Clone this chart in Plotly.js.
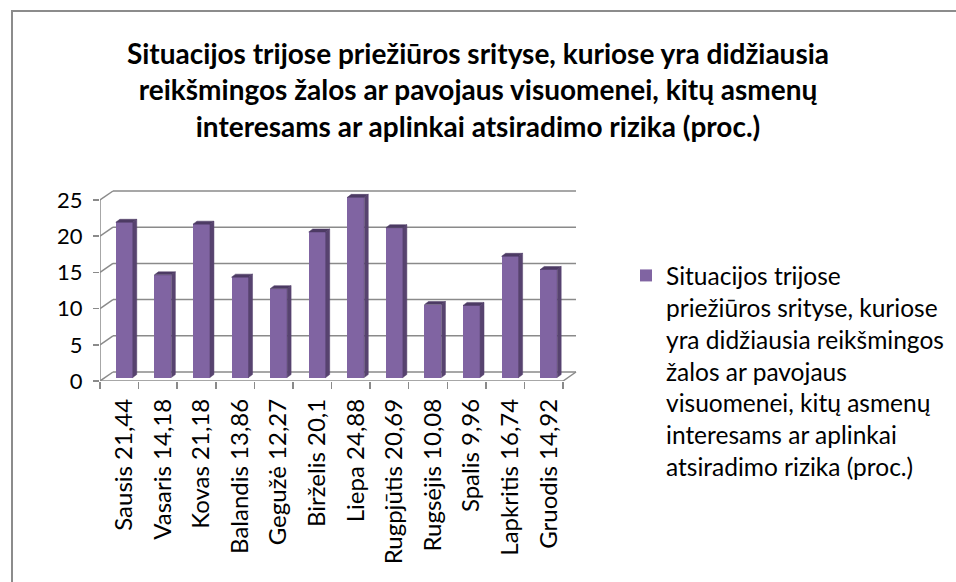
<!DOCTYPE html>
<html><head><meta charset="utf-8">
<script src="https://cdn.plot.ly/plotly-3.0.1.min.js"></script>
<style>html,body{margin:0;padding:0;background:#fff;}#chart{width:956px;height:582px;}</style>
</head><body><div id="chart"></div>
<script>
const months = ["Sausis","Vasaris","Kovas","Balandis","Gegužė","Birželis","Liepa","Rugpjūtis","Rugsėjis","Spalis","Lapkritis","Gruodis"];
const values = [21.44,14.18,21.18,13.86,12.27,20.1,24.88,20.69,10.08,9.96,16.74,14.92];
const yTicks = [0,5,10,15,20,25];
const seriesName = "Situacijos trijose<br>priežiūros srityse, kuriose<br>yra didžiausia reikšmingos<br>žalos ar pavojaus<br>visuomenei, kitų asmenų<br>interesams ar aplinkai<br>atsiradimo rizika (proc.)";
const titleText = "Situacijos trijose priežiūros srityse, kuriose yra didžiausia<br>reikšmingos žalos ar pavojaus visuomenei, kitų asmenų<br>interesams ar aplinkai atsiradimo rizika (proc.)";

const labels = months.map((m,i)=> m + " " + String(values[i]).replace('.', ','));
const idx = months.map((m,i)=>i);

// geometry (pixels)
const W=956,H=582;
const L=100, R=579, T=190, B=381;
const pxPerCat = (563-100)/months.length;
const pxPerUnit = 181/25;
const depthX = 13, depthY = 9;     // wall depth
const barShiftX = 5, barShiftY = 3.5; // bar front plane
const barDX = 4, barDY = 3;          // bar own depth
const barW = 0.44;

const frontX = [-0.5, -0.5 + (R-L)/pxPerCat];
const frontY = [0, (B-T)/pxPerUnit];
const bsx = barShiftX/pxPerCat, bsy = barShiftY/pxPerUnit;
const barX = [frontX[0]-bsx, frontX[1]-bsx];
const barY = [frontY[0]-bsy, frontY[1]-bsy];
const DX = depthX/pxPerCat, DY = depthY/pxPerUnit;
const n = months.length;

// frame lines in front coordinates
const fx=[], fy=[];
function seg(x0,y0,x1,y1){fx.push(x0,x1,null);fy.push(y0,y1,null);}
seg(-0.5,0,-0.5,yTicks[yTicks.length-1]);
yTicks.forEach(v=>{ seg(-0.5,v,-0.5+DX,v+DY); seg(-0.5+DX,v+DY,n-0.5+DX,v+DY); });
seg(-0.5,0,n-0.5,0);
seg(n-0.5,0,n-0.5+DX,DY);

// bar side/top faces
const ddx = barDX/pxPerCat, ddy = barDY/pxPerUnit;
const sx=[], sy=[], tx=[], ty=[];
values.forEach((v,i)=>{
  const r = i + barW/2, l = i - barW/2;
  sx.push(r, r+ddx, r+ddx, r, r, null); sy.push(0, ddy, v+ddy, v, 0, null);
  tx.push(l, r, r+ddx, l+ddx, l, null); ty.push(v, v, v+ddy, v+ddy, v, null);
});

const gridColor = "#8a8a8a";
const font = "Lato, 'Open Sans', sans-serif";

const data = [
  {type:'scatter', mode:'lines', x:fx, y:fy, xaxis:'x', yaxis:'y', line:{color:gridColor,width:1.5}, showlegend:false, hoverinfo:'skip'},
  {type:'bar', x:idx, y:values, xaxis:'x3', yaxis:'y3', width:barW, marker:{color:'#8064A2', line:{width:0}}, name:seriesName, showlegend:true},
  {type:'scatter', mode:'lines', x:sx, y:sy, xaxis:'x3', yaxis:'y3', fill:'toself', fillcolor:'#57436f', line:{width:0.5,color:'#57436f'}, showlegend:false, hoverinfo:'skip'},
  {type:'scatter', mode:'lines', x:tx, y:ty, xaxis:'x3', yaxis:'y3', fill:'toself', fillcolor:'#4d3b64', line:{width:0.5,color:'#4d3b64'}, showlegend:false, hoverinfo:'skip'}
];

const layout = {
  width:W, height:H,
  margin:{l:L, r:W-R, t:T, b:H-B, pad:0},
  paper_bgcolor:'#fff', plot_bgcolor:'rgba(0,0,0,0)',
  font:{family:font, color:'#000'},
  title:{text:titleText, font:{family:font, size:28, weight:'bold', color:'#000'}, x:0.5, xanchor:'center', xref:'container', y:1-64/H, yanchor:'top', yref:'container'},
  xaxis:{type:'linear', range:frontX, domain:[0,1], anchor:'y', tickvals:idx.map(i=>i-0.5).concat([n-0.5]), showticklabels:false, ticks:'outside', ticklen:7, tickcolor:gridColor, tickwidth:1.5, showgrid:false, zeroline:false, showline:false, fixedrange:true},
  yaxis:{range:frontY, domain:[0,1], anchor:'x', tickvals:yTicks, ticks:'outside', ticklen:6, tickcolor:gridColor, tickwidth:1.5, showgrid:false, zeroline:false, showline:false, tickfont:{size:22,family:font,color:'#000'}, ticklabelstandoff:6},
  xaxis3:{type:'linear', range:barX, domain:[0,1], overlaying:'x', anchor:'y3', side:'bottom', tickvals:idx, ticktext:labels, tickangle:-90, ticks:'', showgrid:false, zeroline:false, showline:false, tickfont:{size:24,family:font,color:'#000'}, ticklabelstandoff:12},
  yaxis3:{range:barY, domain:[0,1], overlaying:'y', anchor:'x3', visible:false, showgrid:false, zeroline:false},
  showlegend:true,
  legend:{xref:'container', yref:'container', x:626/W, y:1-253/H, xanchor:'left', yanchor:'top', valign:'top', font:{family:font, size:24.5, color:'#000'}, bgcolor:'rgba(0,0,0,0)', itemwidth:30, tracegroupgap:0},
  shapes:[{type:'rect', xref:'paper', yref:'paper', x0:(12-L)/(R-L), x1:(1100-L)/(R-L), y0:(B-1000)/(B-T), y1:(B-11)/(B-T), line:{color:'#8c8c8c', width:2}, fillcolor:'rgba(0,0,0,0)', layer:'below'}],
  bargap:0
};
Plotly.newPlot('chart', data, layout, {displayModeBar:false, staticPlot:true});
</script></body></html>
